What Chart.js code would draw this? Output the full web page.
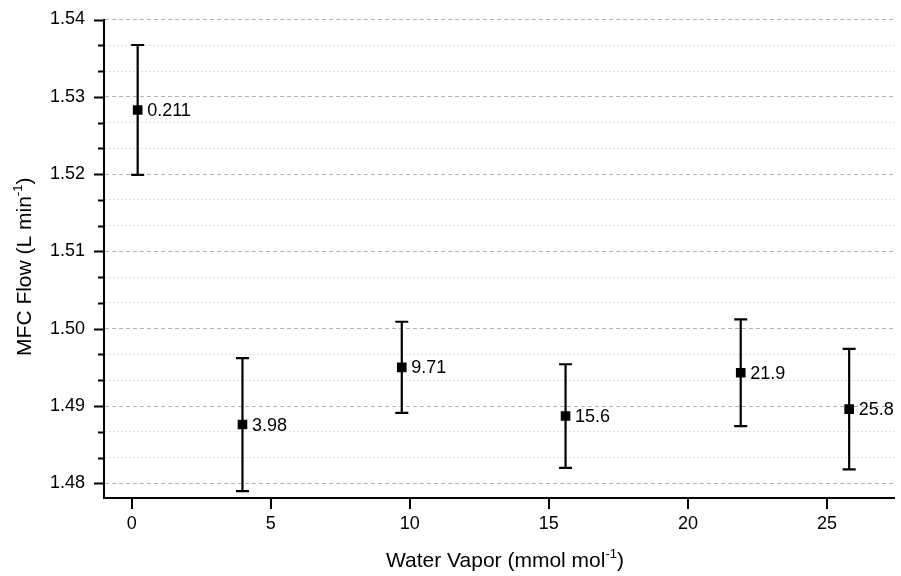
<!DOCTYPE html>
<html>
<head>
<meta charset="utf-8">
<script src="https://cdn.jsdelivr.net/npm/chart.js@4"></script>
<style>
  html, body { margin: 0; padding: 0; background: #fff; }
</style>
</head>
<body>
<canvas id="c" width="901" height="576"></canvas>
<script>
/* ── Data ── */
const xVals       = [0.211, 3.98, 9.71, 15.6, 21.9, 25.8];
const yVals       = [1.5283, 1.4876, 1.4950, 1.4887, 1.4943, 1.4896];
const yErr        = [0.0084, 0.0086, 0.0059, 0.0067, 0.0069, 0.0078];
const pointLabels = ['0.211', '3.98', '9.71', '15.6', '21.9', '25.8'];
const xTickVals   = [0, 5, 10, 15, 20, 25];
const yTickVals   = [1.48, 1.49, 1.50, 1.51, 1.52, 1.53, 1.54];

const FONT = "'Liberation Sans', Arial, sans-serif";

/* y ticks: majors + 2 minors between each */
function buildYTicks() {
  const out = [];
  yTickVals.forEach((v, i) => {
    out.push({ value: v, isMajor: true });
    if (i < yTickVals.length - 1) {
      const step = (yTickVals[i + 1] - v) / 3;
      out.push({ value: v + step, isMajor: false });
      out.push({ value: v + 2 * step, isMajor: false });
    }
  });
  return out;
}

/* draw text with a superscript part, centred on (0,0) of current transform */
function drawSupText(ctx, pre, sup, post, size) {
  const big = size + 'px ' + FONT;
  const small = Math.round(size * 0.62) + 'px ' + FONT;
  ctx.font = big;
  const w1 = ctx.measureText(pre).width;
  const w3 = ctx.measureText(post).width;
  ctx.font = small;
  const w2 = ctx.measureText(sup).width;
  let x = -(w1 + w2 + w3) / 2;
  ctx.textAlign = 'left';
  ctx.textBaseline = 'alphabetic';
  ctx.font = big;   ctx.fillText(pre, x, 0);  x += w1;
  ctx.font = small; ctx.fillText(sup, x, -size * 0.42); x += w2;
  ctx.font = big;   ctx.fillText(post, x, 0);
}

const extras = {
  id: 'extras',
  beforeDatasetsDraw(chart) {
    const { ctx, scales: { x, y } } = chart;
    ctx.save();
    ctx.strokeStyle = '#000';
    ctx.lineWidth = 2.2;
    xVals.forEach((xv, i) => {
      const px = x.getPixelForValue(xv);
      const top = y.getPixelForValue(yVals[i] + yErr[i]);
      const bot = y.getPixelForValue(yVals[i] - yErr[i]);
      ctx.beginPath();
      ctx.moveTo(px, top); ctx.lineTo(px, bot);
      ctx.moveTo(px - 6.5, top); ctx.lineTo(px + 6.5, top);
      ctx.moveTo(px - 6.5, bot); ctx.lineTo(px + 6.5, bot);
      ctx.stroke();
    });
    ctx.restore();
  },
  afterDatasetsDraw(chart) {
    const { ctx, scales: { x, y } } = chart;
    ctx.save();
    ctx.fillStyle = '#000';
    ctx.font = '18px ' + FONT;
    ctx.textAlign = 'left';
    ctx.textBaseline = 'middle';
    xVals.forEach((xv, i) => {
      ctx.fillText(pointLabels[i], x.getPixelForValue(xv) + 9.5, y.getPixelForValue(yVals[i]) + 1);
    });
    ctx.restore();
  },
  afterDraw(chart) {
    const { ctx, chartArea: ca, scales: { x, y } } = chart;
    ctx.save();
    ctx.strokeStyle = '#000';
    ctx.lineWidth = 2;
    ctx.beginPath();
    y.ticks.forEach(t => {
      const py = Math.round(y.getPixelForValue(t.value)) + 0.5;
      const len = t.isMajor ? 10 : 6;
      ctx.moveTo(ca.left - len, py); ctx.lineTo(ca.left, py);
    });
    x.ticks.forEach(t => {
      const px = Math.round(x.getPixelForValue(t.value));
      ctx.moveTo(px, ca.bottom); ctx.lineTo(px, ca.bottom + 11);
    });
    ctx.stroke();

    ctx.fillStyle = '#000';
    ctx.save();
    ctx.translate(505, 567);
    drawSupText(ctx, 'Water Vapor (mmol mol', '-1', ')', 21);
    ctx.restore();

    ctx.save();
    ctx.translate(31, (ca.top + ca.bottom) / 2 + 8);
    ctx.rotate(-Math.PI / 2);
    drawSupText(ctx, 'MFC Flow (L min', '-1', ')', 21);
    ctx.restore();
    ctx.restore();
  },
};

new Chart(document.getElementById('c').getContext('2d'), {
  type: 'scatter',
  data: {
    datasets: [{
      data: xVals.map((xv, i) => ({ x: xv, y: yVals[i] })),
      pointStyle: 'rect',
      pointRadius: 6.8,
      pointHoverRadius: 6.8,
      backgroundColor: '#000',
      borderWidth: 0,
    }],
  },
  options: {
    responsive: false,
    devicePixelRatio: 1,
    animation: false,
    layout: { padding: { top: 19.5, right: 2, bottom: 0, left: 0 } },
    plugins: { legend: { display: false }, tooltip: { enabled: false } },
    scales: {
      x: {
        type: 'linear',
        min: -1,
        max: 27.42,
        afterBuildTicks: s => { s.ticks = xTickVals.map(v => ({ value: v })); },
        afterFit: s => {
          s.height = 78;
          s.paddingLeft = 0; s.paddingRight = 0;
          s.paddingTop = 0; s.paddingBottom = 0;
        },
        grid: { display: false, drawTicks: false },
        border: { display: true, color: '#000', width: 2 },
        ticks: {
          autoSkip: false,
          maxRotation: 0,
          padding: 15,
          color: '#000',
          font: { family: FONT, size: 18 },
          callback: v => String(v),
        },
      },
      y: {
        type: 'linear',
        min: 1.4781,
        max: 1.54,
        afterBuildTicks: s => { s.ticks = buildYTicks(); },
        afterFit: s => {
          s.width = 104;
          s.paddingLeft = 0; s.paddingRight = 0;
          s.paddingTop = 0; s.paddingBottom = 0;
        },
        grid: {
          drawTicks: false,
          lineWidth: 1,
          color: c => (c.tick && c.tick.isMajor) ? '#b5b5b5' : '#e0e0e0',
        },
        border: {
          display: true,
          color: '#000',
          width: 2,
          dash: c => (c.tick && c.tick.isMajor) ? [4, 3] : [2, 2],
        },
        ticks: {
          autoSkip: false,
          padding: 19,
          color: '#000',
          font: { family: FONT, size: 18 },
          callback: (v, i, ticks) => ticks[i].isMajor ? v.toFixed(2) : '',
        },
      },
    },
  },
  plugins: [extras],
});
</script>
</body>
</html>
